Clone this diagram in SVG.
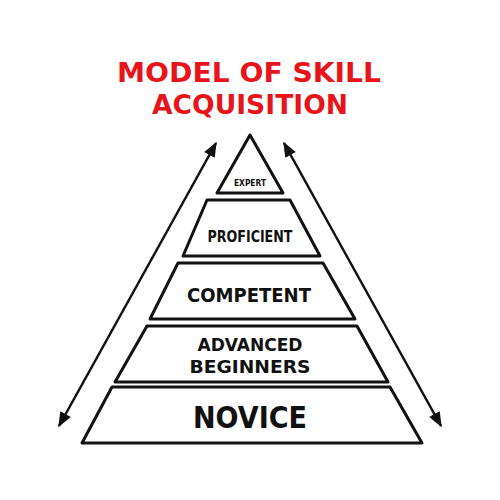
<svg xmlns="http://www.w3.org/2000/svg" width="500" height="500" viewBox="0 0 500 500">
<style>
.tier{fill:#fff;stroke:#111;stroke-width:3;stroke-linejoin:round}
.lbl{font-family:"DejaVu Sans Condensed","DejaVu Sans",sans-serif;font-weight:bold;fill:#111;text-anchor:middle}
.title{font-family:"DejaVu Sans Condensed","DejaVu Sans",sans-serif;font-weight:bold;fill:#e8141b;text-anchor:middle}
.conn{stroke:#111;stroke-width:2.5;fill:none}
</style>
<defs>
<marker id="ah" viewBox="0 0 10 10" refX="9" refY="5" markerWidth="7" markerHeight="6" orient="auto-start-reverse" markerUnits="strokeWidth">
<path d="M0,1 L10,5 L0,9 Z" fill="#111"/>
</marker>
</defs>
<rect width="500" height="500" fill="#fff"/>
<g id="title">
<text class="title" x="249" y="82" font-size="27" textLength="264" lengthAdjust="spacingAndGlyphs">MODEL OF SKILL</text>
<text class="title" x="250" y="114" font-size="27" textLength="196" lengthAdjust="spacingAndGlyphs">ACQUISITION</text>
</g>
<g id="connectors">
<line class="conn" x1="59" y1="426" x2="216" y2="143" marker-start="url(#ah)" marker-end="url(#ah)"/>
<line class="conn" x1="441" y1="426" x2="284" y2="143" marker-start="url(#ah)" marker-end="url(#ah)"/>
</g>
<g id="expert">
<polygon class="tier" points="250,135 283,193 217,193"/>
<text class="lbl" x="250" y="186" font-size="9" textLength="32" lengthAdjust="spacingAndGlyphs">EXPERT</text>
</g>
<g id="proficient">
<polygon class="tier" points="207,200 290,200 320,256 183,256"/>
<text class="lbl" x="250" y="242" font-size="15" textLength="85" lengthAdjust="spacingAndGlyphs">PROFICIENT</text>
</g>
<g id="competent">
<polygon class="tier" points="178,263 323,263 355,319 150,319"/>
<text class="lbl" x="249" y="302" font-size="20" textLength="124" lengthAdjust="spacingAndGlyphs">COMPETENT</text>
</g>
<g id="advanced">
<polygon class="tier" points="147,326 357,326 388,382 115,382"/>
<text class="lbl" x="250" y="351" font-size="18" textLength="105" lengthAdjust="spacingAndGlyphs">ADVANCED</text>
<text class="lbl" x="250" y="373" font-size="18" textLength="121" lengthAdjust="spacingAndGlyphs">BEGINNERS</text>
</g>
<g id="novice">
<polygon class="tier" points="112,387 390,387 422,443 82,443"/>
<text class="lbl" x="250" y="428" font-size="30" textLength="114" lengthAdjust="spacingAndGlyphs">NOVICE</text>
</g>
</svg>
